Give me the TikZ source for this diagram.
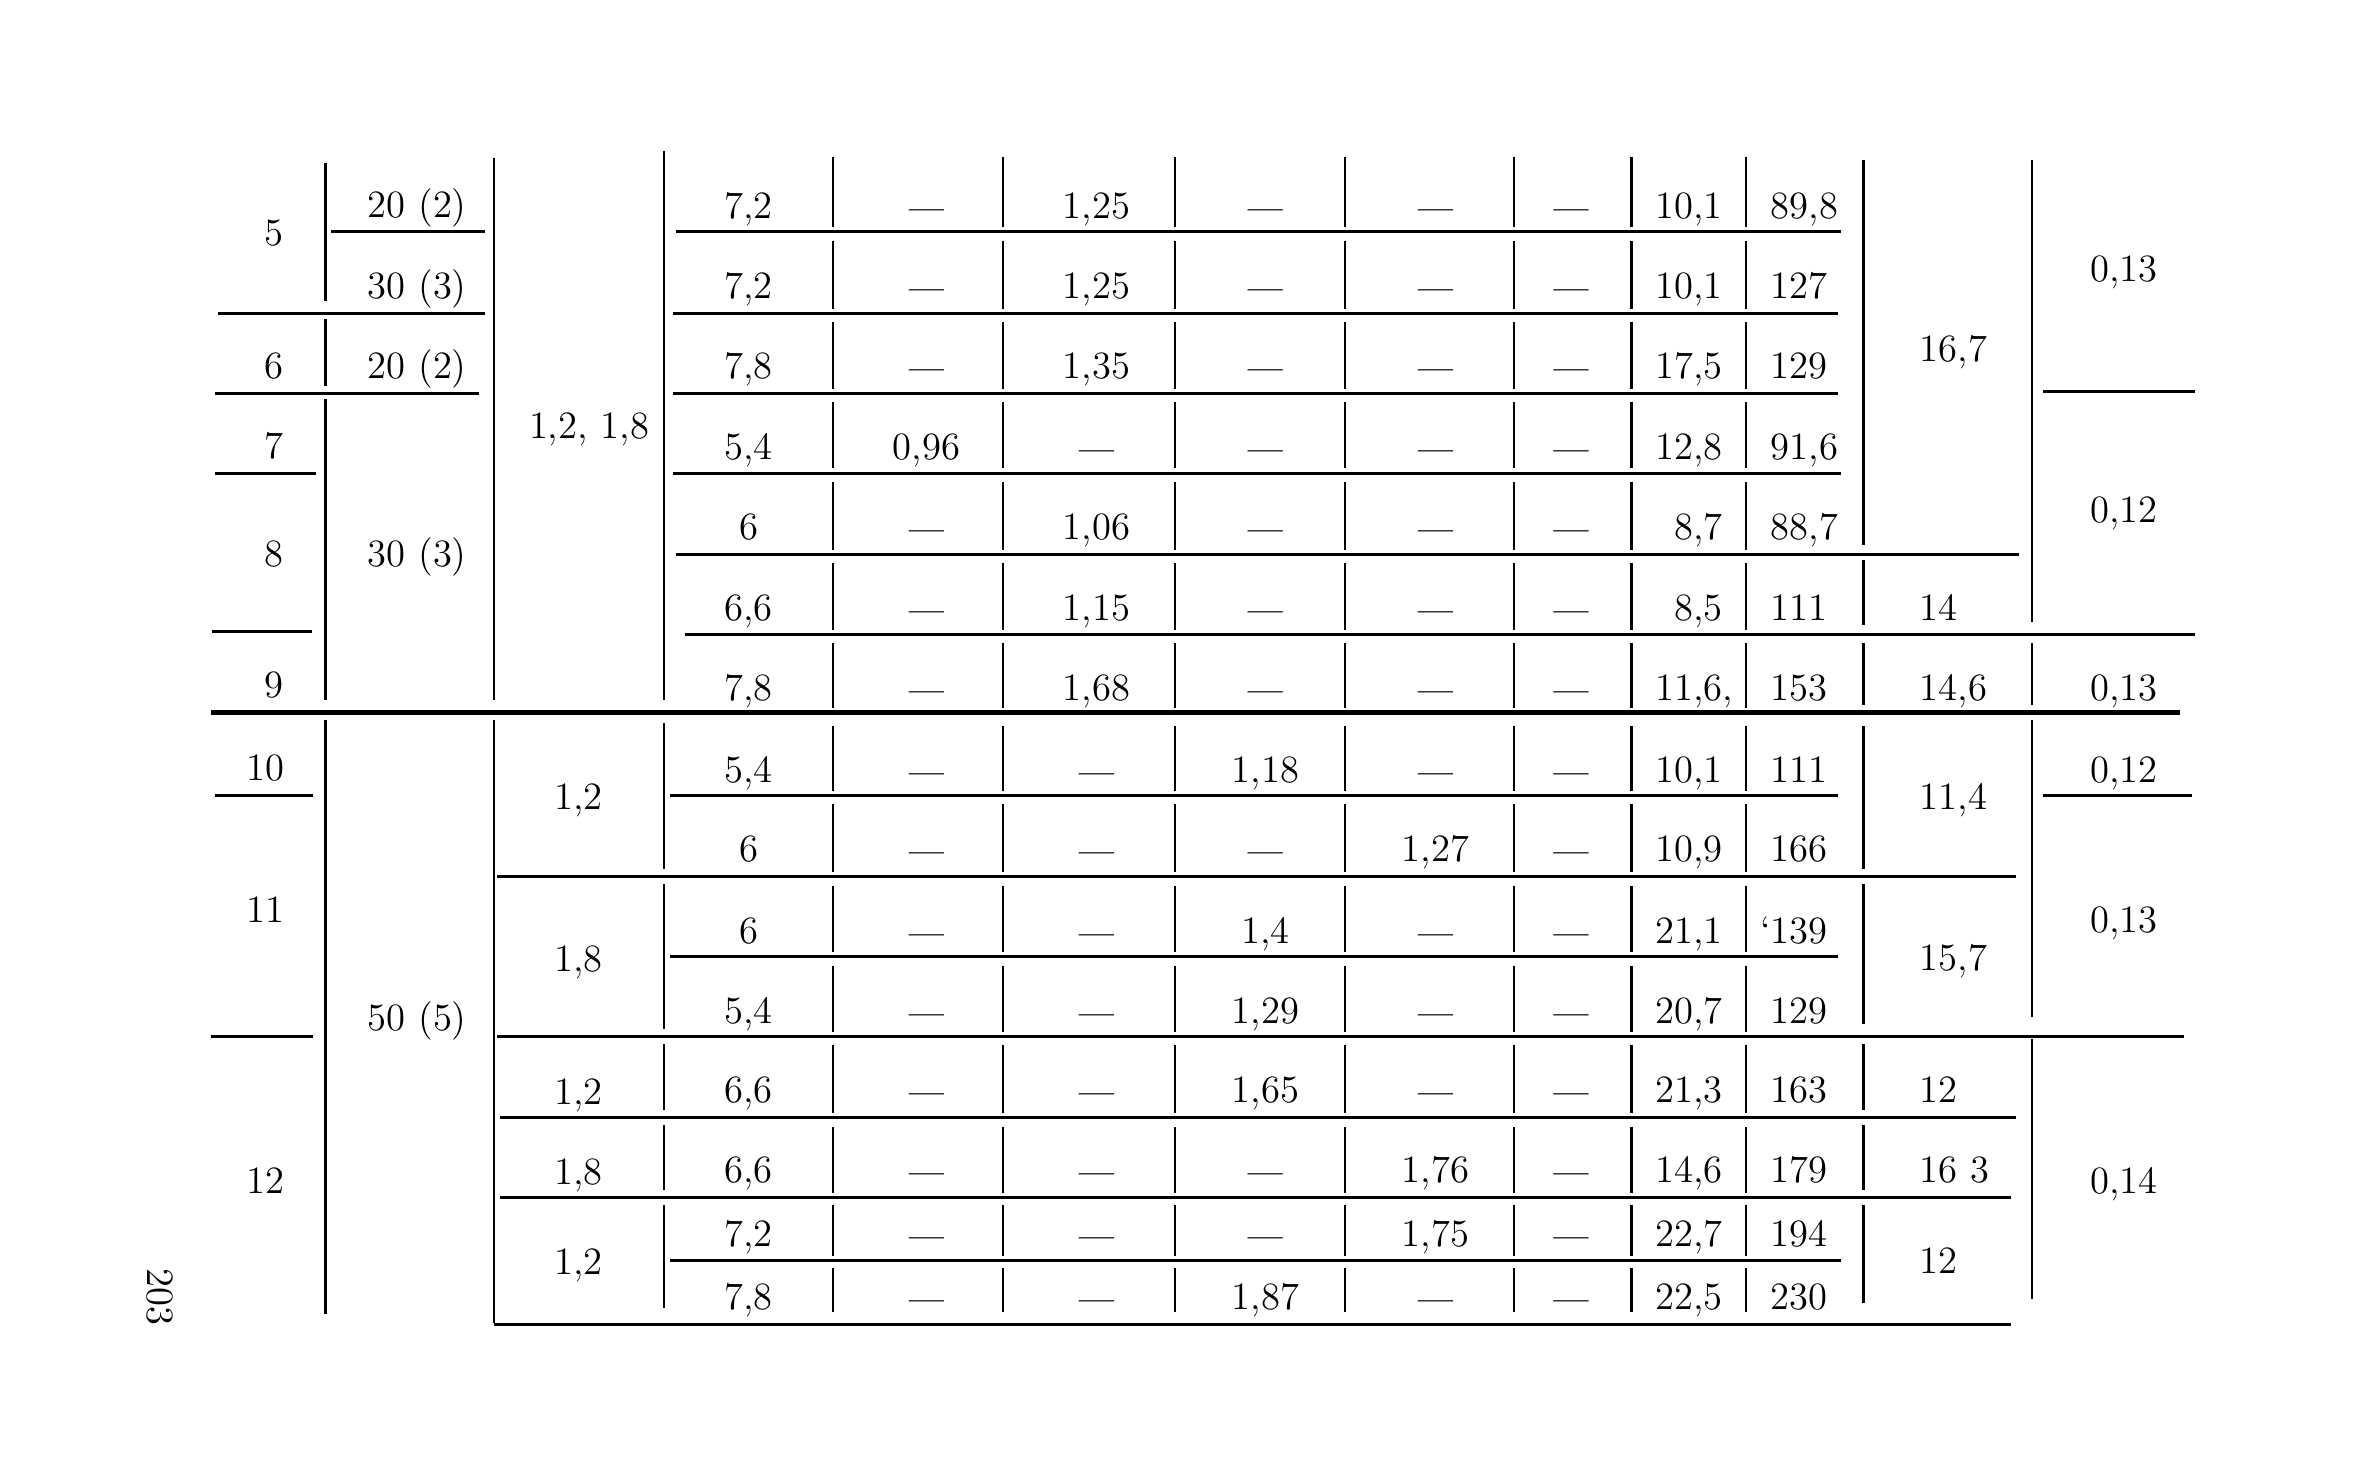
\documentclass[tikz,border=0pt]{standalone}
\usepackage{fontspec}
\newcommand\dsh{{\fontsize{8.5}{10}\bfseries\selectfont —}}

\begin{document}
\begin{tikzpicture}[x=0.15064mm, y=-0.15064mm, cell/.style={ inner sep=0pt,
    text height=7pt, text depth=0pt, font=\fontsize{11}{13}\selectfont },
    hrule/.style={ line width=0.85pt }, thickrule/.style={ line width=1.3pt },
    vrule/.style={ line width=0.65pt } ]
  \useasboundingbox (0,0) rectangle (1568,980);
  % values, one row at a time
  \foreach \y/\d/\e/\f/\g/\h/\j/\k [count=\r] in {
    {137/7,2/\dsh/1,25/\dsh/\dsh/10,1/89,8}, {190/7,2/\dsh/1,25/\dsh/\dsh/10,1/127},
    {243/7,8/\dsh/1,35/\dsh/\dsh/17,5/129}, {297/5,4/0,96/\dsh/\dsh/\dsh/12,8/91,6},
    {350/6/\dsh/1,06/\dsh/\dsh/8,7/88,7}, {404/6,6/\dsh/1,15/\dsh/\dsh/8,5/111},
    {457/7,8/\dsh/1,68/\dsh/\dsh/11,6\rlap{,}/153}, {511/5,4/\dsh/\dsh/1,18/\dsh/10,1/111},
    {564/6/\dsh/\dsh/\dsh/1,27/10,9/166}, {618/6/\dsh/\dsh/1,4/\dsh/21,1/\llap{‘}139},
    {671/5,4/\dsh/\dsh/1,29/\dsh/20,7/129}, {724/6,6/\dsh/\dsh/1,65/\dsh/21,3/163},
    {777/6,6/\dsh/\dsh/\dsh/1,76/14,6/179}, {819/7,2/\dsh/\dsh/\dsh/1,75/22,7/194},
    {861/7,8/\dsh/\dsh/1,87/\dsh/22,5/230}} {
    \node[cell] (d\r) at (497,\y) {\d};
    \node[cell] (e\r) at (615,\y) {\e};
    \node[cell] (f\r) at (728,\y) {\f};
    \node[cell] (g\r) at (840,\y) {\g};
    \node[cell] (h\r) at (953,\y) {\h};
    \node[cell] (i\r) at (1043,\y) {\dsh};
    \node[cell,anchor=east] (j\r) at (1144,\y) {\j};
    \node[cell,anchor=west] (k\r) at (1175,\y) {\k};
  }
  % merged cells
  \foreach \x/\y/\l [count=\i] in {182/155/5, 182/243/6, 182/296/7, 182/368/8,
    182/455/9, 176/510/10, 176/604/11, 176/784/12}
  \node[cell] (a\i) at (\x,\y) {\l};
  \foreach \y/\l [count=\i] in {136/20 (2), 190/30 (3), 243/20 (2), 368/30 (3),
    676/50 (5)}
  \node[cell] (b\i) at (277,\y) {\l};
  \node[cell] (c0) at (391,283) {1,2, 1,8};
  \foreach \y/\l [count=\i] in {{529/1,2}, {637/1,8}, {725/1,2}, {778/1,8}, {838/1,2}}
  \node[cell] (c\i) at (384,\y) {\l};
  \foreach \y/\l [count=\i] in {{232/16,7}, {404/14}, {457/14,6}, {529/11,4},
    {636/15,7}, {724/12}, {777/16 3}, {837/12}}
  \node[cell,anchor=west] (l\i) at (1274,\y) {\l};
  \foreach \y/\l [count=\i] in {{179/0,13}, {339/0,12}, {457/0,13}, {511/0,12},
    {611/0,13}, {784/0,14}}
  \node[cell] (m\i) at (1410,\y) {\l};
  \node[cell,rotate=-90] (page) at (106,861) {203};
  % rules
  \foreach \a/\b/\y in {220/322/154, 449/1222/154, 145/322/208, 447/1220/208,
    143/318/261, 447/1220/261, 1356/1457/260, 143/210/314, 447/1222/314,
    449/1340/368, 141/207/419, 455/1457/421, 143/208/528, 445/1220/528,
    1356/1455/528, 330/1338/582, 445/1220/635, 140/208/688, 330/1450/688,
    332/1338/742, 332/1335/795, 445/1222/837, 328/1335/879}
  \draw[hrule] (\a,\y) -- (\b,\y);
  \draw[thickrule] (140,473) -- (1447,473);
  \foreach \t/\b in {104/151, 160/205, 214/258, 267/311, 320/365, 374/418,
    427/470, 482/525, 534/579, 588/632, 641/685, 694/739, 748/792, 800/834,
    842/871}
  \foreach \x in {553,666,780,893,1005,1083,1159}
  \draw[vrule] (\x,\t) -- (\x,\b);
  \foreach \x/\t/\b in {216/108/200, 216/212/256, 216/265/465, 216/478/872,
    328/105/465, 328/478/878, 441/100/465, 441/480/577, 441/587/683,
    441/693/737, 441/747/790, 441/800/868, 1237/106/362, 1237/372/415,
    1237/427/468, 1237/482/577, 1237/587/680, 1237/693/737, 1237/747/790,
    1237/800/865, 1349/106/413, 1349/427/468, 1349/478/675, 1349/690/862}
  \draw[vrule] (\x,\t) -- (\x,\b);
\end{tikzpicture}
\end{document}
